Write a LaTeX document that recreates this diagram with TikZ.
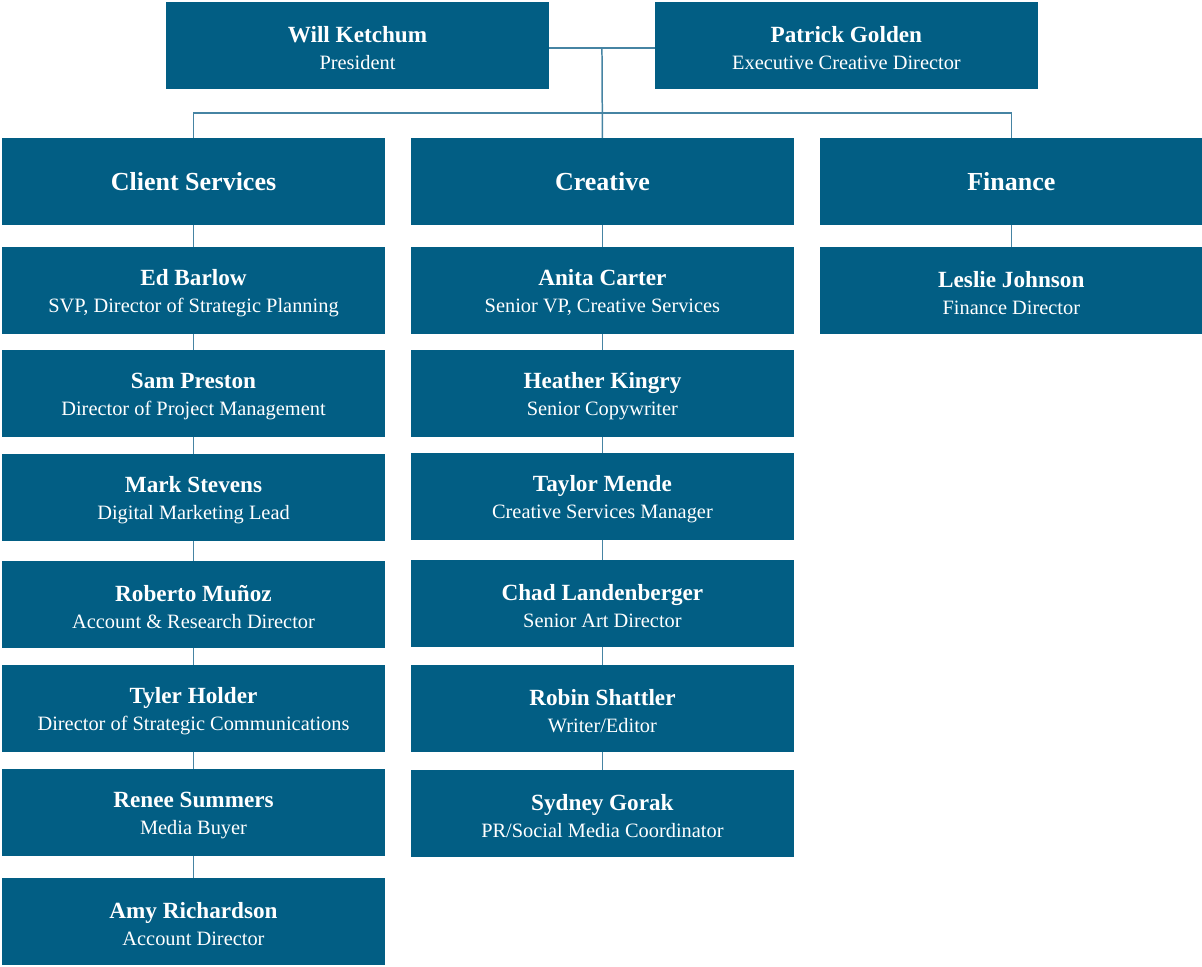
\documentclass[tikz,border=0pt]{standalone}
\usepackage{fontspec}
\setmainfont{Liberation Serif}
\usetikzlibrary{positioning, calc}
\definecolor{boxblue}{RGB}{2,94,132}
\definecolor{linkblue}{RGB}{70,132,163}
\newcommand{\nm}[1]{{\fontsize{13.2}{15.4}\selectfont\bfseries\rule{0pt}{12pt}#1}}

\begin{document}
\begin{tikzpicture}[
    x=0.02cm, y=-0.02cm,
    node distance=0.32cm and 0.52cm,
    every node/.style={font=\fontsize{11.6}{15.4}\selectfont},
    box/.style={rectangle, fill=boxblue, text=white, align=center,
      minimum width=7.66cm, minimum height=1.74cm, inner sep=0pt, outer sep=0pt},
    head/.style={box, font=\fontsize{14.8}{16}\selectfont\bfseries},
    link/.style={draw=linkblue, line width=0.85pt}
]
\useasboundingbox (0,0) rectangle (1202,966);

% top row
\node[box] (will) at (357.5,45.5) {\nm{Will Ketchum}\\President};
\node[box, right=2.12cm of will] (patrick) {\nm{Patrick Golden}\\Executive Creative Director};

% departments
\node[head] (client) at (193.5,181.5) {Client Services};
\node[head, right=of client] (creative) {Creative};
\node[head, right=of creative] (finance) {Finance};

% client services
\node[box, below=0.44cm of client] (ed) {\nm{Ed Barlow}\\SVP, Director of Strategic Planning};
\node[box, below=of ed] (sam) {\nm{Sam Preston}\\Director of Project Management};
\node[box, below=0.34cm of sam] (mark) {\nm{Mark Stevens}\\Digital Marketing Lead};
\node[box, below=0.40cm of mark] (roberto) {\nm{Roberto Muñoz}\\Account \& Research Director};
\node[box, below=0.34cm of roberto] (tyler) {\nm{Tyler Holder}\\Director of Strategic Communications};
\node[box, below=0.34cm of tyler] (renee) {\nm{Renee Summers}\\Media Buyer};
\node[box, below=0.44cm of renee] (amy) {\nm{Amy Richardson}\\Account Director};

% creative
\node[box, below=0.44cm of creative] (anita) {\nm{Anita Carter}\\Senior VP, Creative Services};
\node[box, below=of anita] (heather) {\nm{Heather Kingry}\\Senior Copywriter};
\node[box, below=of heather] (taylor) {\nm{Taylor Mende}\\Creative Services Manager};
\node[box, below=0.40cm of taylor] (chad) {\nm{Chad Landenberger}\\Senior Art Director};
\node[box, below=0.36cm of chad] (robin) {\nm{Robin Shattler}\\Writer/Editor};
\node[box, below=0.36cm of robin] (sydney) {\nm{Sydney Gorak}\\PR/Social Media Coordinator};

% finance
\node[box, below=0.44cm of finance] (leslie) {\nm{Leslie Johnson}\\Finance Director};

\coordinate (top) at ($(will.east)!0.5!(patrick.west) + (0,2.5)$);
\coordinate (bus) at (602,113);

\draw[link] ([yshift=-0.05cm]will.east) -- ([yshift=-0.05cm]patrick.west);
\draw[link] (top) -- (creative.north);
\draw[link] (client.north) |- (bus) -| (finance.north);
\foreach \a/\b in {client/ed, ed/sam, sam/mark, mark/roberto, roberto/tyler, tyler/renee, renee/amy,
    creative/anita, anita/heather, heather/taylor, taylor/chad, chad/robin, robin/sydney,
    finance/leslie}
  \draw[link] (\a) -- (\b);
\end{tikzpicture}
\end{document}
